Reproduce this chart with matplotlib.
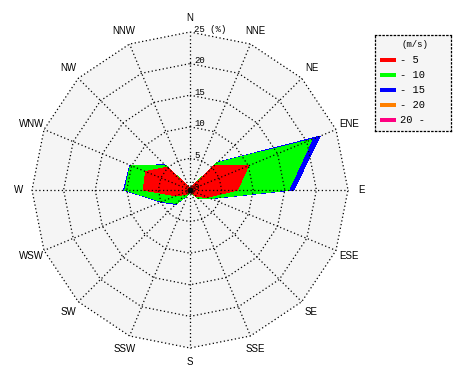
import numpy as np
import matplotlib
matplotlib.use("Agg")
import matplotlib.pyplot as plt
from matplotlib.patches import Rectangle

# ---- data ----
directions = ["N", "NNE", "NE", "ENE", "E", "ESE", "SE", "SSE",
              "S", "SSW", "SW", "WSW", "W", "WNW", "NW", "NNW"]
class_labels = ["- 5", "- 10", "- 15", "- 20", "20 -"]
class_colors = ["#ff0000", "#00ff00", "#0000ff", "#ff8000", "#ff0080"]
# frequency (%) per speed class and direction
freq_0_5   = [0.2, 0.4, 5.5, 10.0, 7.5, 3.0, 1.5, 0.4, 0.2, 0.4, 1.0, 2.4, 7.4, 7.6, 5.1, 0.5]
freq_5_10  = [0.0, 0.1, 0.6, 10.9, 8.1, 0.5, 0.4, 0.1, 0.0, 0.4, 2.0, 2.4, 2.9, 2.6, 0.4, 0.1]
freq_10_15 = [0.0, 0.0, 0.1, 1.4, 0.8, 0.1, 0.1, 0.0, 0.0, 0.1, 0.2, 0.2, 0.2, 0.1, 0.1, 0.0]
freq_15_20 = [0.0] * 16
freq_20_up = [0.0] * 16
ring_values = [0, 5, 10, 15, 20, 25]
ring_labels = ["0", "5", "10", "15", "20", "25 (%)"]
r_max = 25

mono = ["Liberation Mono", "DejaVu Sans Mono"]
narrow = ["Liberation Sans Narrow", "Liberation Sans", "DejaVu Sans"]

fig = plt.figure(figsize=(4.7, 3.8), dpi=100)
fig.patch.set_facecolor("white")
W, H = 470, 380
cx, cy, R = 190, 190, 158
ax = fig.add_axes([(cx - R) / W, (H - cy - R) / H, 2 * R / W, 2 * R / H],
                  projection="polar")
ax.set_theta_zero_location("N")
ax.set_theta_direction(-1)
ax.set_ylim(0, r_max)
ax.grid(False)
ax.set_xticks([])
ax.set_yticks([])
ax.spines["polar"].set_visible(False)
ax.patch.set_visible(False)

theta = np.deg2rad(np.arange(16) * 22.5)
theta_c = np.append(theta, theta[0])

def closed(v):
    v = np.asarray(v, dtype=float)
    return np.append(v, v[0])

# background polygon
ax.fill(theta_c, closed([r_max] * 16), color="#f5f5f5", lw=0, zorder=0)

# stacked polygons (cumulative), largest drawn first
classes = [freq_0_5, freq_5_10, freq_10_15, freq_15_20, freq_20_up]
cum = np.cumsum(np.array(classes), axis=0)
for i in range(len(classes) - 1, -1, -1):
    ax.fill(theta_c, closed(cum[i]), color=class_colors[i], lw=0, zorder=2,
            antialiased=False)

# polygonal grid
dots = (0, (1, 2))
for rv in ring_values[1:]:
    ax.plot(theta_c, closed([rv] * 16), color="black", lw=0.9,
            linestyle=dots, zorder=3, clip_on=False)
for t in theta:
    ax.plot([t, t], [0, r_max], color="black", lw=0.9, linestyle=dots,
            zorder=3, clip_on=False)

# centre marker
ax.plot([0], [0], "o", color="black", ms=3.5, zorder=4)

# ring labels
for rv, lab in zip(ring_values, ring_labels):
    ax.annotate(lab, xy=(0, rv), xytext=(4, 0.5), textcoords="offset pixels",
                ha="left", va="baseline", fontsize=6.5, family=mono,
                zorder=5)

# direction labels
for t, d in zip(theta, directions):
    ax.text(t, 27.2, d, ha="center", va="center", fontsize=7,
            family=narrow, zorder=5)

# legend
lx0, ly0, lx1, ly1 = 375, 35, 451, 131
lax = fig.add_axes([lx0 / W, (H - ly1) / H, (lx1 - lx0) / W, (ly1 - ly0) / H])
lax.set_xlim(lx0, lx1)
lax.set_ylim(ly1, ly0)
lax.set_facecolor("#f5f5f5")
lax.set_xticks([])
lax.set_yticks([])
for s in lax.spines.values():
    s.set_linestyle(dots)
    s.set_linewidth(0.9)
lax.text(415, 44.5, "(m/s)", ha="center", va="center", fontsize=6.5, family=mono)
for k, (lab, col) in enumerate(zip(class_labels, class_colors)):
    yy = 60 + 15 * k
    lax.add_patch(Rectangle((380, yy - 2.3), 15.5, 4.6, color=col, lw=0))
    lax.text(399.5, yy, lab, ha="left", va="center", fontsize=7.5, family=mono)

fig.savefig("out.png", dpi=100)
